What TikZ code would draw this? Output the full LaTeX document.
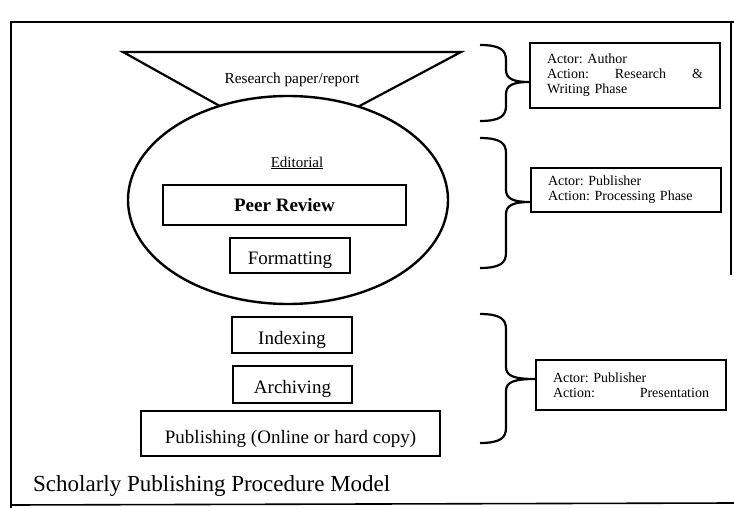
\documentclass[tikz,border=0pt]{standalone}
\usepackage{fontspec}
\setmainfont{Liberation Serif}
\usetikzlibrary{shapes.geometric}

\begin{document}
\frenchspacing
\begin{tikzpicture}[x=1pt, y=-1pt,
        stagebox/.style={draw, line width=2.2pt, inner sep=0pt, text height=18pt, text depth=0pt, font=\fontsize{19}{22}\selectfont},
        actorbox/.style={draw, line width=2pt, anchor=west, text width=156pt, inner xsep=17pt, inner ysep=0pt, align=left, font=\fontsize{14}{15}\selectfont},
        curly/.style={line width=2.2pt}]
        \useasboundingbox (0,0) rectangle (734,508);
        % Frame
        \draw[line width=1.6pt] (11,508) -- (11,22) -- (734,22);
        \draw[line width=1.6pt] (731,22) -- (731,275);
        \draw[line width=1.6pt] (11,505) -- (734,503);
        % Editorial ellipse
        \node[ellipse, draw, line width=2.4pt, minimum width=320pt, minimum height=208pt, outer sep=0pt] (Ell) at (288,200) {};
        % Research paper funnel
        \coordinate (TL) at (123,52);
        \coordinate (TR) at (461,52);
        \draw[line width=2.2pt] (Ell.126) -- (TL) -- (TR) -- (Ell.53);
        \node[font=\fontsize{15.3}{18}\selectfont] (Paper) at (292,80) {Research paper/report};
        % Inside the ellipse
        \node[font=\fontsize{15}{18}\selectfont] (Edit) at (297,163) {\underline{Editorial}};
        \node[stagebox, minimum width=243pt, minimum height=40pt, text height=13pt, font=\bfseries\fontsize{19}{22}\selectfont] (Peer) at (284.5,205) {Peer Review};
        \node[stagebox, minimum width=120pt, minimum height=35pt] (Form) at (290,255.5) {Formatting};
        % Below the ellipse
        \node[stagebox, minimum width=120pt, minimum height=36pt] (Index) at (292,335) {Indexing};
        \node[stagebox, minimum width=119pt, minimum height=37pt] (Arch) at (292.5,384.5) {Archiving};
        \node[stagebox, minimum width=299pt, minimum height=45pt, text height=20pt] (Pub) at (290.5,433.5) {Publishing (Online or hard copy)};
        % Actor boxes
        \node[actorbox, minimum height=65pt] (A1) at (529,75.5) {Actor: Author\\ \makebox[156pt][l]{Action:\hfill Research\hfill\&}\\ Writing Phase};
        \node[actorbox, minimum height=44pt] (A2) at (530,190) {Actor: Publisher\\ Action: Processing Phase};
        \node[actorbox, minimum height=50pt] (A3) at (535,385) {Actor: Publisher\\ \makebox[156pt][l]{Action:\hfill Presentation}};
        % Braces
        \draw[curly] (480,45) .. controls (500,45) and (506,50) .. (506,60) -- (506,70) .. controls (506,79) and (514,82) .. (A1.west |- 0,82) .. controls (514,82) and (506,85) .. (506,94) -- (506,106) .. controls (506,116) and (500,121) .. (480,121);
        \draw[curly] (480,138) .. controls (500,138) and (506,143) .. (506,153) -- (506,190) .. controls (506,199) and (514,202) .. (A2.west |- 0,202) .. controls (514,202) and (506,205) .. (506,214) -- (506,253) .. controls (506,263) and (500,268) .. (480,268);
        \draw[curly] (480,314) .. controls (500,314) and (506,319) .. (506,329) -- (506,367) .. controls (506,376) and (514,379) .. (A3.west |- 0,379) .. controls (514,379) and (506,382) .. (506,391) -- (506,428) .. controls (506,438) and (500,443) .. (480,443);
        % Caption
        \node[anchor=west, inner sep=0pt, font=\fontsize{23}{26}\selectfont] (Title) at (33,486) {Scholarly Publishing Procedure Model};
    \end{tikzpicture}
\end{document}
